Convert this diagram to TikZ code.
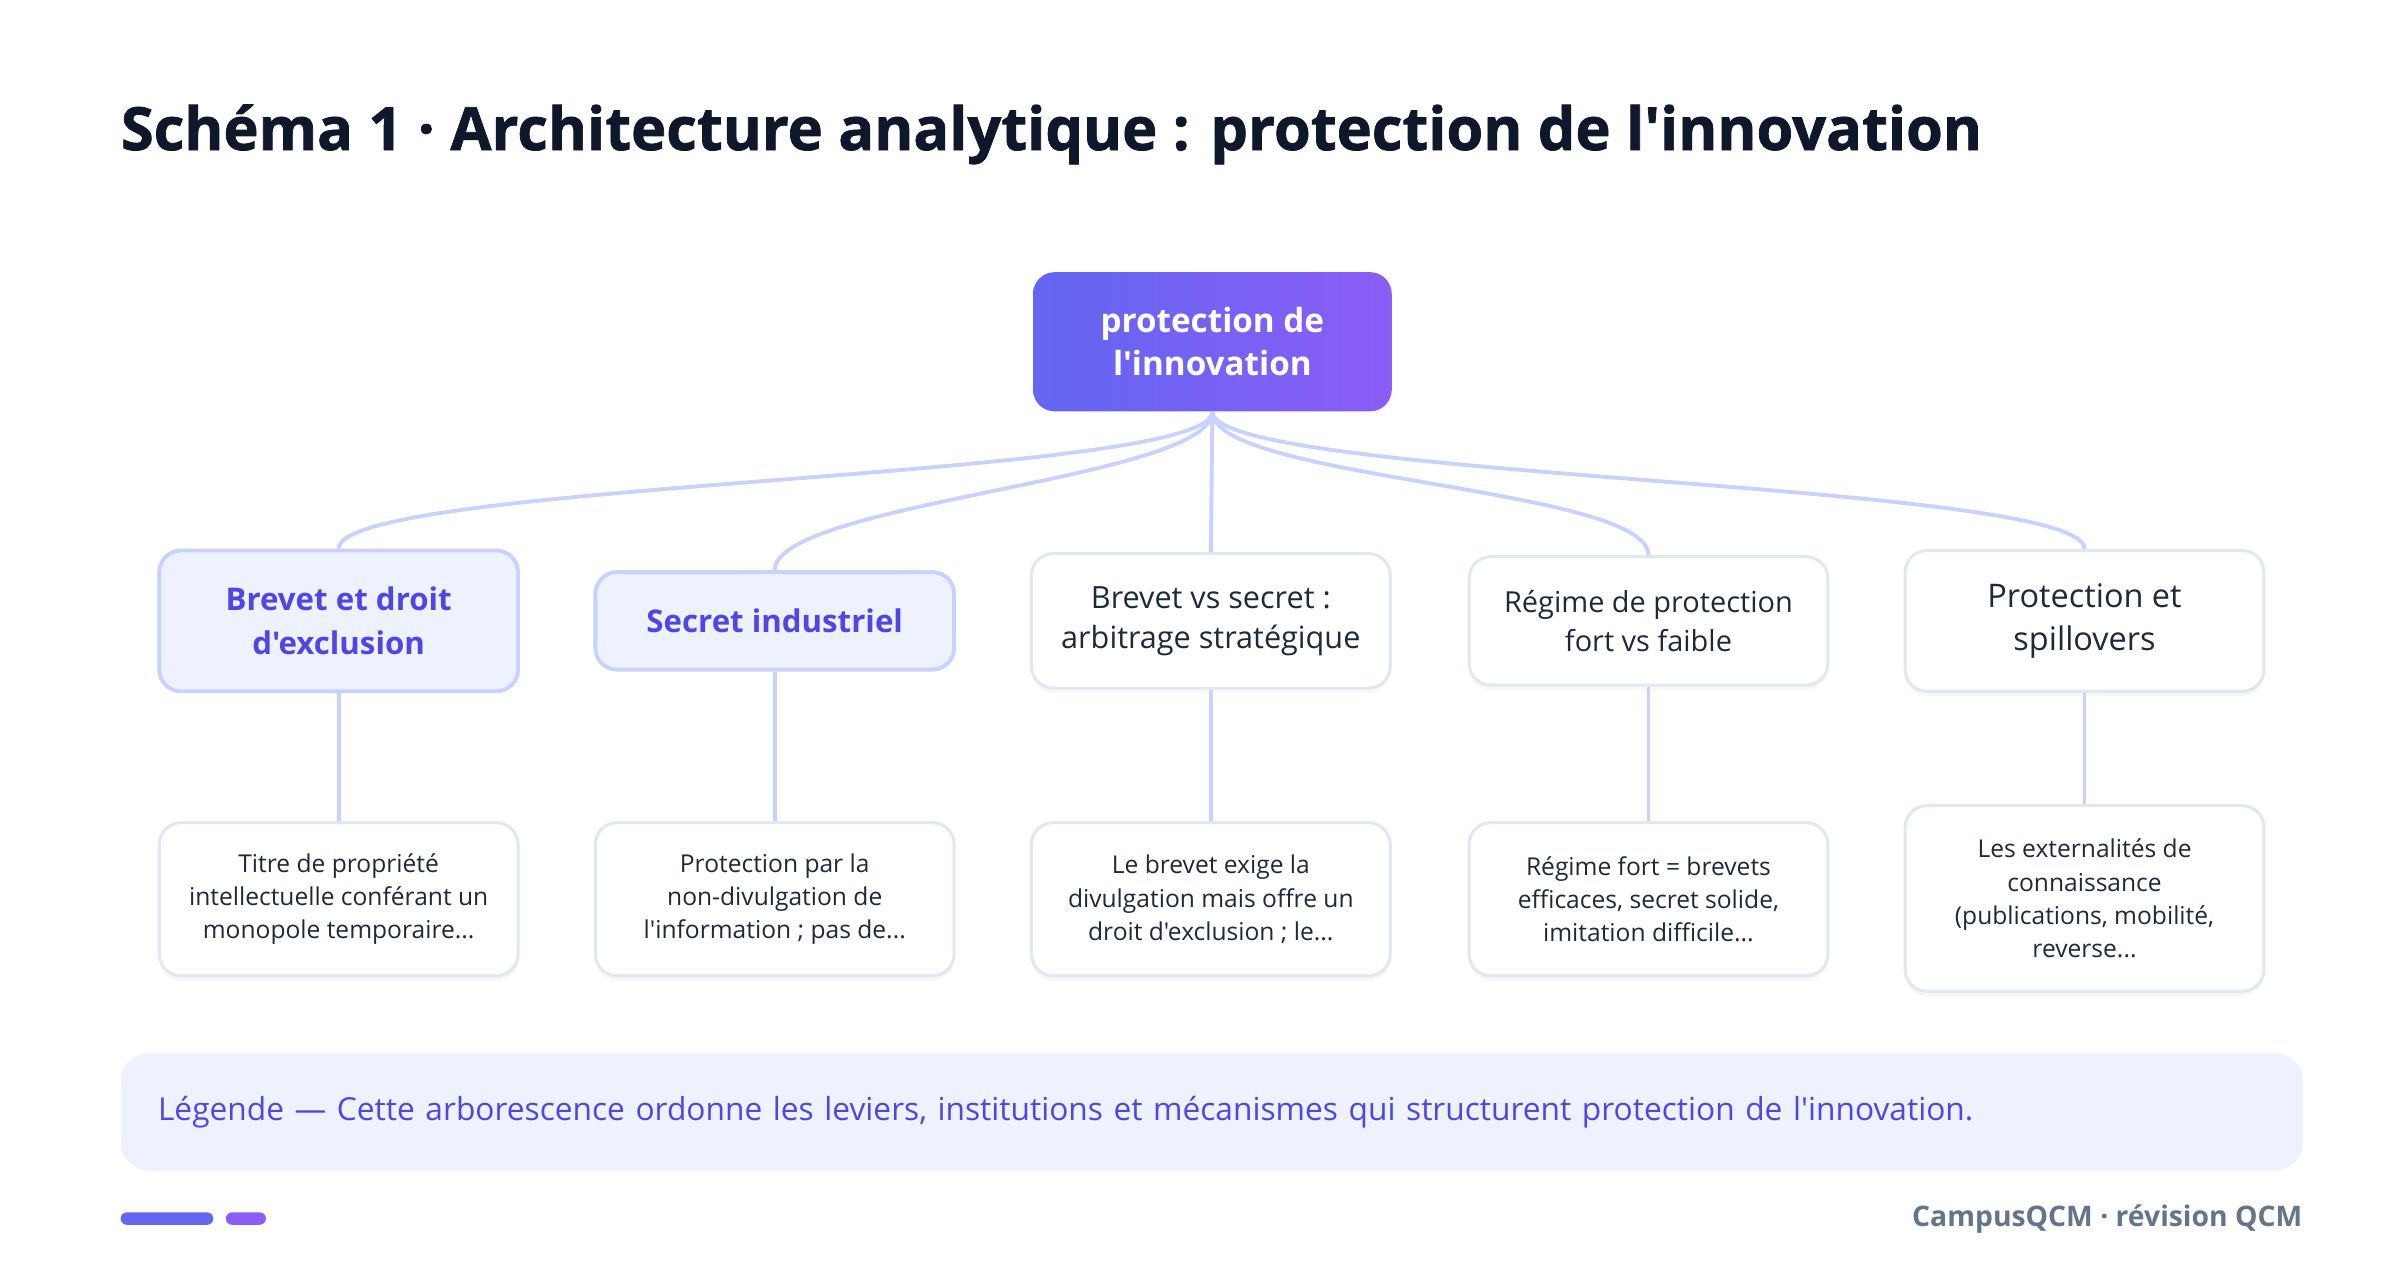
\documentclass[tikz,border=0pt]{standalone}
\usepackage{fontspec}
\setmainfont{Open Sans}[Ligatures=TeXOff]
\newfontfamily\titlefont{Open Sans}[BoldFeatures={FakeBold=1.2}, Ligatures=TeXOff]
\usetikzlibrary{positioning,shadows}

\definecolor{inkdark}{HTML}{0F172A}
\definecolor{inkbody}{HTML}{1E293B}
\definecolor{indigo}{HTML}{6366F1}
\definecolor{violet}{HTML}{8B5CF6}
\definecolor{edgeblue}{HTML}{C7D2FE}
\definecolor{paleblue}{HTML}{EEF2FF}
\definecolor{accent}{HTML}{4F46E5}
\definecolor{greyline}{HTML}{E2E8F0}
\definecolor{footgrey}{HTML}{64748B}

\tikzset{
	rootbox/.style={rounded corners=14pt, left color=indigo, right color=violet, text=white,
		font=\bfseries\fontsize{21.5}{28}\selectfont, align=center, inner sep=0pt,
		minimum width=232pt, minimum height=90pt},
	keybox/.style={rounded corners=14pt, draw=edgeblue, line width=2.5pt, fill=paleblue, text=accent,
		font=\bfseries\fontsize{20.2}{28}\selectfont, align=center, inner sep=0pt, minimum width=232pt},
	plainbox/.style={rounded corners=14pt, draw=greyline, line width=2pt, fill=white, text=inkbody,
		align=center, inner sep=0pt, minimum width=232pt,
		drop shadow={opacity=0.06, shadow xshift=0pt, shadow yshift=-3pt}},
	leafbox/.style={plainbox, font=\fontsize{15.9}{21.5}\selectfont, minimum height=99pt},
	link/.style={draw=edgeblue, line width=2.5pt},
}

\begin{document}
\begin{tikzpicture}[x=1pt, y=-1pt]
	\useasboundingbox[fill=white] (0,0) rectangle (1552,820);

	% title
	\node[anchor=base west, inner sep=0pt, text=inkdark, font=\titlefont\bfseries\fontsize{38.5}{42}\selectfont] (title) at (78,97)
		{Schéma 1 · Architecture analytique : protection de l'innovation};

	% root and first level
	\node[rootbox] (root) at (784,221) {protection de\\l'innovation};

	\node[keybox, minimum height=91pt] (b1) at (219,401.5) {Brevet et droit\\d'exclusion};
	\node[keybox, minimum height=63pt] (b2) at (501,401.5) {Secret industriel};
	\node[plainbox, minimum height=87pt, font=\fontsize{19.8}{26}\selectfont] (b3) at (783,401.5) {Brevet vs secret :\\arbitrage stratégique};
	\node[plainbox, minimum height=83pt, font=\fontsize{18.7}{25}\selectfont] (b4) at (1066,401.5) {Régime de protection\\fort vs faible};
	\node[plainbox, minimum height=91pt, font=\fontsize{21}{28}\selectfont] (b5) at (1348,401.5) {Protection et\\spillovers};

	% second level
	\node[leafbox] (d1) at (219,581.5) {Titre de propriété\\intellectuelle conférant un\\monopole temporaire...};
	\node[leafbox] (d2) at (501,581.5) {Protection par la\\non-divulgation de\\l'information ; pas de...};
	\node[leafbox] (d3) at (783,581.5) {Le brevet exige la\\divulgation mais offre un\\droit d'exclusion ; le...};
	\node[leafbox] (d4) at (1066,581.5) {Régime fort = brevets\\efficaces, secret solide,\\imitation difficile...};
	\node[leafbox, minimum height=120pt] (d5) at (1348,581) {Les externalités de\\connaissance\\(publications, mobilité,\\reverse...};

	% connectors
	\foreach \i in {1,2,4,5}
		\draw[link] (root.south) .. controls +(0,44) and +(0,-44) .. (b\i.north);
	\draw[link] (root.south) -- (b3.north);
	\foreach \i in {1,...,5}
		\draw[link] (b\i.south) -- (d\i.north);

	% legend and footer
	\node[anchor=west, rounded corners=18pt, fill=paleblue, text=accent, inner xsep=24pt, inner ysep=0pt,
		text width=1363pt, minimum height=76pt, align=left, font=\fontsize{20.5}{26}\selectfont] (legend) at (78,719)
		{Légende — Cette arborescence ordonne les leviers, institutions et mécanismes qui structurent protection de l'innovation.};

	\fill[indigo, rounded corners=4pt] (78,784) rectangle (138,792);
	\fill[violet, rounded corners=4pt] (146,784) rectangle (172,792);
	\node[anchor=east, inner sep=0pt, text=footgrey, font=\bfseries\fontsize{18.3}{22}\selectfont] (brand) at (1489,788)
		{CampusQCM · révision QCM};
\end{tikzpicture}
\end{document}
